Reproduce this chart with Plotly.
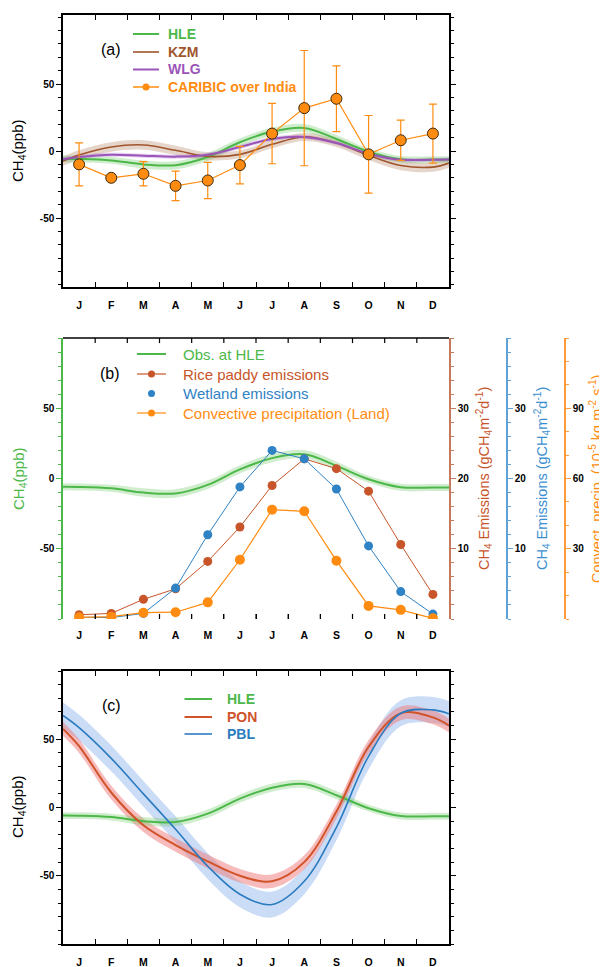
import plotly.graph_objects as go

# ---------------- data ----------------
MONTHS = ["J", "F", "M", "A", "M", "J", "J", "A", "S", "O", "N", "D"]
MONTH_X = [0.5, 1.5, 2.5, 3.5, 4.5, 5.5, 6.5, 7.5, 8.5, 9.5, 10.5, 11.5]
MONTH_EDGES = [1, 2, 3, 4, 5, 6, 7, 8, 9, 10, 11]
CURVE_X = [0, 0.5, 1.5, 2.5, 3.5, 4.5, 5.5, 6.5, 7.5, 8.5, 9.5, 10.5, 11.5, 12]

Y_TICKS = [-50, 0, 50]
Y_TICK_TEXT = ["-50", "0", "50"]

# smoothed seasonal cycles (ppb) and their uncertainty half-widths
HLE = [-5.9, -6.0, -7.0, -10.0, -10.6, -4.5, 6.5, 14.5, 17.2, 9.0, -0.5, -6.2, -6.4, -6.4]
HLE_SD = [2.5, 2.5, 2.5, 3, 3, 3, 3, 3, 3, 3, 2.5, 2.5, 2.5, 2.5]
KZM = [-7.5, -3.0, 3.0, 4.5, 0.5, -4.0, -2.5, 5.0, 10.5, 6.0, -3.2, -10.8, -12.0, -9.0]
KZM_SD = [3.5, 3.5, 3.5, 3.5, 3.5, 3, 3, 3, 3, 3, 3.5, 3.5, 3.5, 3.5]
WLG = [-6.2, -4.5, -2.8, -3.5, -4.2, -2.8, 3.0, 9.0, 10.5, 6.0, -2.0, -6.5, -6.5, -6.3]
WLG_SD = [1.5, 1.5, 1.5, 1.5, 1.5, 1.5, 1.5, 1.5, 1.5, 1.5, 1.5, 1.5, 1.5, 1.5]

# CARIBIC over India monthly means and error bars (ppb)
CARIBIC = [-10, -20, -17, -26, -22, -10.5, 13, 32, 39, -2.5, 8, 13]
CARIBIC_ERR = [16, 0, 9, 11, 13.5, 14, 22.5, 43, 24.5, 29, 15, 22]

# panel (b): emissions and convective precipitation
RICE = [0.6, 0.8, 2.8, 4.3, 8.2, 13.1, 19.0, 22.8, 21.4, 18.2, 10.6, 3.5]
WETLAND = [0.25, 0.2, 0.8, 4.4, 12.0, 18.8, 24.0, 22.8, 18.5, 10.4, 3.9, 0.7]
CONV = [0.7, 1.0, 2.7, 2.9, 7.1, 25.3, 46.7, 46.0, 24.9, 5.6, 3.9, 0.3]

# panel (c): PON and PBL seasonal cycles (ppb)
PON = [57.6, 45.0, 11.0, -13.0, -27.5, -39.5, -50.0, -54.0, -40.0, -3.0, 44.5, 69.0, 66.0, 60.0]
PON_SD = [5, 5, 5, 5, 5, 5, 5, 5, 5, 5, 5, 5, 5, 5]
PBL = [67.4, 58.5, 36.0, 10.0, -16.0, -43.0, -63.5, -71.0, -54.0, -14.5, 37.5, 69.0, 71.5, 68.6]
PBL_SD = [9.5, 9.5, 9.5, 9.5, 9.5, 9.5, 9.5, 9.5, 9.5, 9.5, 9.5, 9.5, 9.5, 9.5]

# ---------------- styling ----------------
PAGE_OFF = 8            # default body margin of the html page
W, H = 607 - PAGE_OFF, 967 - PAGE_OFF
FONT = "Liberation Sans, Arial, sans-serif"
GREEN = "#4db84a"
BROWN = "#a0552d"
PURPLE = "#9b55b8"
ORANGE = "#ff8c10"
RICE_C = "#c8552a"
WET_C = "#2f82c4"
PON_C = "#d0532a"
PBL_C = "#2b7bc0"


def fx(px):
    return (px - PAGE_OFF) / W


def fy(py):
    return 1 - (py - PAGE_OFF) / H


fig = go.Figure()


def band(x, y, sd, color, xa, ya):
    lo = [a - b for a, b in zip(y, sd)]
    hi = [a + b for a, b in zip(y, sd)]
    fig.add_trace(go.Scatter(x=x, y=lo, mode="lines", line=dict(width=0, shape="spline"),
                             hoverinfo="skip", showlegend=False, xaxis=xa, yaxis=ya))
    fig.add_trace(go.Scatter(x=x, y=hi, mode="lines", line=dict(width=0, shape="spline"),
                             fill="tonexty", fillcolor=color, hoverinfo="skip",
                             showlegend=False, xaxis=xa, yaxis=ya))


# ---- panel (a)
band(CURVE_X, KZM, KZM_SD, "rgba(165,105,65,0.28)", "x", "y")
band(CURVE_X, HLE, HLE_SD, "rgba(110,200,100,0.32)", "x", "y")
band(CURVE_X, WLG, WLG_SD, "rgba(165,100,205,0.30)", "x", "y")
fig.add_trace(go.Scatter(x=CURVE_X, y=HLE, mode="lines", name="HLE", showlegend=False,
                         line=dict(color=GREEN, width=2, shape="spline")))
fig.add_trace(go.Scatter(x=CURVE_X, y=KZM, mode="lines", name="KZM", showlegend=False,
                         line=dict(color=BROWN, width=1.6, shape="spline")))
fig.add_trace(go.Scatter(x=CURVE_X, y=WLG, mode="lines", name="WLG", showlegend=False,
                         line=dict(color=PURPLE, width=2, shape="spline")))
fig.add_trace(go.Scatter(x=MONTH_X, y=CARIBIC, mode="lines+markers", name="CARIBIC over India",
                         showlegend=False, line=dict(color=ORANGE, width=1.2),
                         marker=dict(color=ORANGE, size=11, line=dict(color="#3a2a10", width=1)),
                         error_y=dict(type="data", array=CARIBIC_ERR, color=ORANGE,
                                      thickness=1.2, width=4)))

# ---- panel (b)
band(CURVE_X, HLE, HLE_SD, "rgba(110,200,100,0.32)", "x2", "y2")
fig.add_trace(go.Scatter(x=CURVE_X, y=HLE, mode="lines", name="Obs. at HLE", showlegend=False,
                         line=dict(color=GREEN, width=2, shape="spline"),
                         xaxis="x2", yaxis="y2"))
fig.add_trace(go.Scatter(x=MONTH_X, y=RICE, mode="lines+markers", name="Rice paddy emissions",
                         showlegend=False, line=dict(color=RICE_C, width=1),
                         marker=dict(color=RICE_C, size=9), xaxis="x2", yaxis="y3"))
fig.add_trace(go.Scatter(x=MONTH_X, y=WETLAND, mode="lines+markers", name="Wetland emissions",
                         showlegend=False, line=dict(color=WET_C, width=1),
                         marker=dict(color=WET_C, size=9), xaxis="x2", yaxis="y4"))
fig.add_trace(go.Scatter(x=MONTH_X, y=CONV, mode="lines+markers",
                         name="Convective precipitation (Land)", showlegend=False,
                         line=dict(color=ORANGE, width=1.2),
                         marker=dict(color=ORANGE, size=10), xaxis="x2", yaxis="y5"))

# ---- panel (c)
band(CURVE_X, PBL, PBL_SD, "rgba(160,192,238,0.55)", "x3", "y6")
band(CURVE_X, PON, PON_SD, "rgba(240,120,120,0.50)", "x3", "y6")
band(CURVE_X, HLE, HLE_SD, "rgba(110,200,100,0.32)", "x3", "y6")
fig.add_trace(go.Scatter(x=CURVE_X, y=HLE, mode="lines", name="HLE", showlegend=False,
                         line=dict(color=GREEN, width=2, shape="spline"), xaxis="x3", yaxis="y6"))
fig.add_trace(go.Scatter(x=CURVE_X, y=PON, mode="lines", name="PON", showlegend=False,
                         line=dict(color=PON_C, width=2, shape="spline"), xaxis="x3", yaxis="y6"))
fig.add_trace(go.Scatter(x=CURVE_X, y=PBL, mode="lines", name="PBL", showlegend=False,
                         line=dict(color=PBL_C, width=1.6, shape="spline"), xaxis="x3", yaxis="y6"))

# ---------------- axes ----------------
XDOM = [fx(63), fx(449)]
tickfont = dict(family=FONT, size=10, color="black", weight="bold")


def xaxis(anchor, showline=True):
    return dict(domain=XDOM, anchor=anchor, range=[0, 12], tickmode="array",
                tickvals=MONTH_X, ticktext=MONTHS, ticks="", ticklabelstandoff=8,
                tickfont=dict(family=FONT, size=10.5, color="black", weight="bold"),
                showline=showline, linecolor="black", linewidth=1.5,
                mirror="allticks" if showline else False,
                showgrid=False, zeroline=False,
                minor=dict(tickmode="array", tickvals=MONTH_EDGES, ticks="inside",
                           ticklen=5, tickcolor="black", tickwidth=1.2, showgrid=False))


def yaxis_main(dom, rng, color="black", mirror=True):
    d = dict(domain=dom, range=rng, tickmode="array", tickvals=Y_TICKS, ticktext=Y_TICK_TEXT,
             ticks="outside", ticklen=5, tickwidth=1.2, tickcolor=color,
             tickfont=tickfont, showline=True, linecolor=color, linewidth=1.5,
             showgrid=False, zeroline=False,
             minor=dict(dtick=10, tick0=0, ticks="outside", ticklen=3, tickcolor=color,
                        tickwidth=1, showgrid=False))
    d["mirror"] = "allticks" if mirror else False
    return d


def yaxis_right(color, rng, tv, pos=None, minor=2):
    d = dict(range=rng, overlaying="y2", side="right", tickmode="array", tickvals=tv,
             ticks="outside", ticklen=5, tickwidth=1.2, tickcolor=color, tickfont=tickfont,
             showline=True, linecolor=color, linewidth=1.5, showgrid=False, zeroline=False,
             minor=dict(dtick=minor, tick0=0, ticks="outside", ticklen=3, tickcolor=color,
                        tickwidth=1, showgrid=False))
    if pos is None:
        d["anchor"] = "x2"
    else:
        d["anchor"] = "free"
        d["position"] = pos
    return d


fig.update_layout(
    xaxis=xaxis("y"),
    yaxis=yaxis_main([fy(287), fy(15)], [-101.5, 101.5]),
    xaxis2=xaxis("y2", showline=False),
    yaxis2=yaxis_main([fy(619), fy(338)], [-100, 100], color=GREEN, mirror=False),
    yaxis3=yaxis_right("#c47a5c", [0, 40], [10, 20, 30]),
    yaxis4=yaxis_right("#5fa2d8", [0, 40], [10, 20, 30], pos=fx(507)),
    yaxis5=yaxis_right("#ff9a3c", [0, 120], [30, 60, 90], pos=fx(565), minor=10),
    xaxis3=xaxis("y6"),
    yaxis6=yaxis_main([fy(944), fy(671)], [-100, 100]),
)

shapes = []
# top border of panel (b) with inside month ticks at top and bottom
shapes.append(dict(type="line", xref="x2 domain", yref="y2 domain", x0=0, x1=1, y0=1, y1=1,
                   line=dict(color="black", width=1.5)))
for e in MONTH_EDGES:
    shapes.append(dict(type="line", xref="x2", yref="y2 domain", x0=e, x1=e, y0=1, y1=0.982,
                       line=dict(color="black", width=1.2)))
    shapes.append(dict(type="line", xref="x2", yref="y2 domain", x0=e, x1=e, y0=0, y1=0.018,
                       line=dict(color="black", width=1.2)))

# ---------------- titles / labels ----------------
ann = []


def ytitle(x, y, text, color, size=15):
    ann.append(dict(x=fx(x), y=fy(y), xref="paper", yref="paper", text=text, textangle=-90,
                    showarrow=False, xanchor="center", yanchor="middle",
                    font=dict(family=FONT, size=size, color=color)))


ytitle(18, 151, "CH<sub>4</sub>(ppb)", "black")
ytitle(20, 479, "CH<sub>4</sub>(ppb)", GREEN)
ytitle(18, 807, "CH<sub>4</sub>(ppb)", "black")
ytitle(484, 479, "CH<sub>4</sub> Emissions (gCH<sub>4</sub>m<sup>-2</sup>d<sup>-1</sup>)", RICE_C, 14.5)
ytitle(542, 479, "CH<sub>4</sub> Emissions (gCH<sub>4</sub>m<sup>-2</sup>d<sup>-1</sup>)", "#3a8fd0", 14.5)
ytitle(596, 479, "Convect. precip. (10<sup>-5</sup> kg m<sup>-2</sup> s<sup>-1</sup>)", ORANGE, 14.5)

for t, x, y in [("(a)", 111, 49), ("(b)", 110, 373), ("(c)", 111, 705)]:
    ann.append(dict(x=fx(x), y=fy(y), xref="paper", yref="paper", text=t, showarrow=False,
                    xanchor="center", yanchor="middle",
                    font=dict(family=FONT, size=16, color="black")))


# ---------------- legends (line sample + optional marker + coloured label) ----------------
def legend_entry(x0, x1, xt, y, text, color, size, bold, line=True, marker=0, lw=2):
    if line:
        shapes.append(dict(type="line", xref="paper", yref="paper", x0=fx(x0), x1=fx(x1),
                           y0=fy(y), y1=fy(y), line=dict(color=color, width=lw)))
    if marker:
        cx = (x0 + x1) / 2
        r = marker / 2
        shapes.append(dict(type="circle", xref="paper", yref="paper",
                           x0=fx(cx - r), x1=fx(cx + r), y0=fy(y + r), y1=fy(y - r),
                           fillcolor=color, line=dict(color=color, width=0)))
    t = f"<b>{text}</b>" if bold else text
    ann.append(dict(x=fx(xt), y=fy(y), xref="paper", yref="paper", text=t, showarrow=False,
                    xanchor="left", yanchor="middle",
                    font=dict(family=FONT, size=size, color=color)))


LEG_A = [("HLE", GREEN, 0, 2), ("KZM", BROWN, 0, 1.6), ("WLG", PURPLE, 0, 2),
         ("CARIBIC over India", ORANGE, 7, 1.5)]
for (name, col, mk, lw), yy in zip(LEG_A, [34, 52, 69.5, 87]):
    legend_entry(133, 159, 166, yy, name, col, 14, True, marker=mk, lw=lw)

LEG_B = [("Obs. at HLE", GREEN, True, 0, 2), ("Rice paddy emissions", RICE_C, True, 7, 1.2),
         ("Wetland emissions", WET_C, False, 7, 1), ("Convective precipitation (Land)", ORANGE, True, 7, 1.2)]
for (name, col, ln, mk, lw), yy in zip(LEG_B, [354, 374, 393.5, 413]):
    legend_entry(137, 166, 181, yy, name, col, 15, False, line=ln, marker=mk, lw=lw)

LEG_C = [("HLE", GREEN, 2), ("PON", PON_C, 2), ("PBL", PBL_C, 1.6)]
for (name, col, lw), yy in zip(LEG_C, [699, 717, 734]):
    legend_entry(184.5, 212, 225, yy, name, col, 14, True, lw=lw)

fig.update_layout(annotations=ann, shapes=shapes)

fig.update_layout(width=W, height=H, margin=dict(l=0, r=0, t=0, b=0),
                  paper_bgcolor="white", plot_bgcolor="white", showlegend=False,
                  font=dict(family=FONT))

fig.write_html("out.html")
